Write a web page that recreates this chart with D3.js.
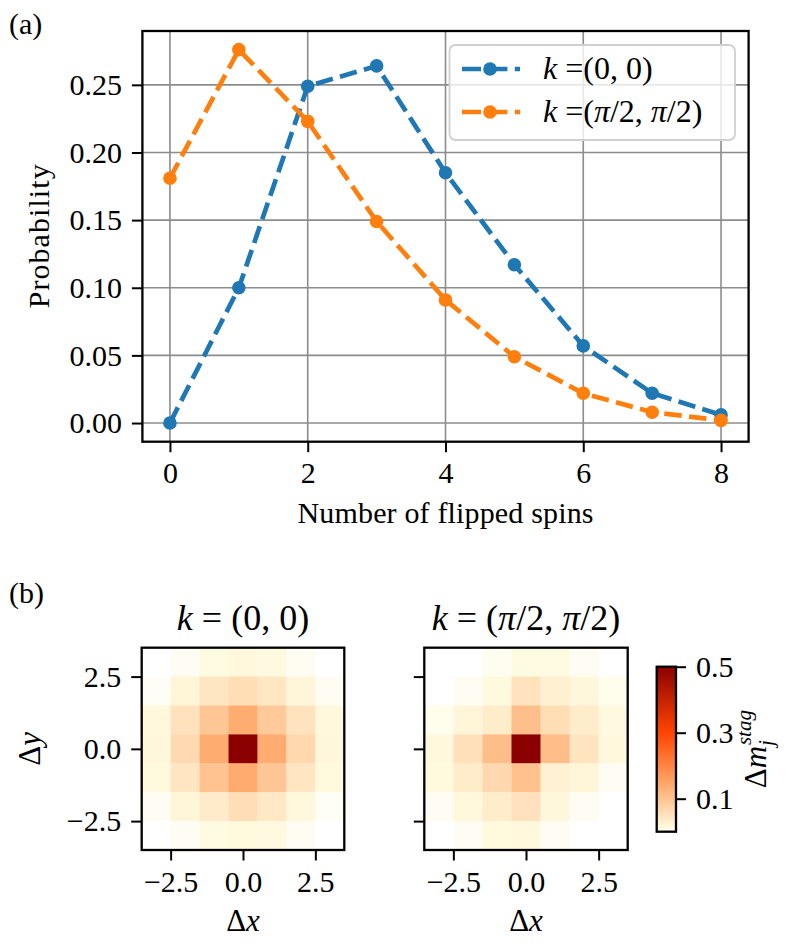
<!DOCTYPE html>
<html>
<head>
<meta charset="utf-8">
<script src="https://cdn.jsdelivr.net/npm/d3@7"></script>
<style>
  body { margin: 0; background: #fff; }
  svg text { font-family: "Liberation Serif", "DejaVu Serif", serif; fill: #000; }
</style>
</head>
<body>
<svg id="fig" width="788" height="946"></svg>
<script>
// ---- data ----
const flipped = [0, 1, 2, 3, 4, 5, 6, 7, 8];
const probK00 = [0.000, 0.100, 0.249, 0.264, 0.185, 0.117, 0.057, 0.022, 0.006];
const probKpi = [0.181, 0.276, 0.223, 0.149, 0.091, 0.049, 0.022, 0.008, 0.002];
const yTicks = [0.00, 0.05, 0.10, 0.15, 0.20, 0.25];
const xTicks = [0, 2, 4, 6, 8];

// 7x7 maps, rows from dy = +3 (top) down to dy = -3
const offsets = [-3, -2, -1, 0, 1, 2, 3];
const mapK00 = [
  [0.000, 0.004, 0.010, 0.015, 0.011, 0.004, 0.000],
  [0.003, 0.020, 0.043, 0.059, 0.042, 0.018, 0.004],
  [0.015, 0.050, 0.096, 0.137, 0.090, 0.048, 0.015],
  [0.016, 0.064, 0.137, 0.500, 0.137, 0.066, 0.016],
  [0.014, 0.046, 0.100, 0.138, 0.096, 0.045, 0.014],
  [0.004, 0.018, 0.036, 0.057, 0.040, 0.015, 0.003],
  [0.000, 0.004, 0.010, 0.014, 0.011, 0.004, 0.000]
];
const mapKpi = [
  [0.000, 0.000, 0.005, 0.010, 0.009, 0.004, 0.000],
  [0.000, 0.004, 0.014, 0.049, 0.027, 0.016, 0.006],
  [0.006, 0.019, 0.034, 0.107, 0.059, 0.034, 0.011],
  [0.015, 0.053, 0.109, 0.500, 0.109, 0.047, 0.015],
  [0.012, 0.034, 0.066, 0.104, 0.024, 0.018, 0.004],
  [0.004, 0.015, 0.034, 0.050, 0.016, 0.004, 0.000],
  [0.000, 0.004, 0.012, 0.015, 0.004, 0.000, 0.000]
];
const mapTicks = [-2.5, 0, 2.5];
const cbarTicks = [0.1, 0.3, 0.5];

const blue = '#1f77b4', orange = '#ff7f0e';
const svg = d3.select('#fig');

// ================= panel (a) =================
const A = { left: 142.4, right: 748.6, top: 31, bottom: 441.7 };
const pad = (lo, hi) => [lo - (hi - lo) * 0.05, hi + (hi - lo) * 0.05];
const allProb = probK00.concat(probKpi);

const x = d3.scaleLinear().domain(pad(d3.min(flipped), d3.max(flipped))).range([A.left, A.right]);
const y = d3.scaleLinear().domain(pad(d3.min(allProb), d3.max(allProb))).range([A.bottom, A.top]);

const gA = svg.append('g');

// grid
gA.selectAll('.gx').data(xTicks).enter().append('line')
  .attr('x1', d => x(d)).attr('x2', d => x(d))
  .attr('y1', A.top).attr('y2', A.bottom)
  .attr('stroke', '#8c8c8c').attr('stroke-width', 1.6);
gA.selectAll('.gy').data(yTicks).enter().append('line')
  .attr('y1', d => y(d)).attr('y2', d => y(d))
  .attr('x1', A.left).attr('x2', A.right)
  .attr('stroke', '#8c8c8c').attr('stroke-width', 1.6);

// axes
const xAxis = d3.axisBottom(x).tickValues(xTicks).tickFormat(d3.format('d')).tickSize(10.5).tickPadding(10);
const yAxis = d3.axisLeft(y).tickValues(yTicks).tickFormat(d3.format('.2f')).tickSize(10.5).tickPadding(10);
gA.append('g').attr('transform', `translate(0,${A.bottom})`).call(xAxis);
gA.append('g').attr('transform', `translate(${A.left},0)`).call(yAxis);

// series
const series = [
  { vals: probK00, color: blue },
  { vals: probKpi, color: orange }
];
const line = d3.line().x((d, i) => x(flipped[i])).y(d => y(d));
series.forEach(s => {
  gA.append('path').datum(s.vals)
    .attr('d', line)
    .attr('fill', 'none')
    .attr('stroke', s.color)
    .attr('stroke-width', 4.7)
    .attr('stroke-dasharray', '17.5,7.4');
  gA.selectAll(null).data(s.vals).enter().append('circle')
    .attr('cx', (d, i) => x(flipped[i]))
    .attr('cy', d => y(d))
    .attr('r', 6.8)
    .attr('fill', s.color);
});

// frame
gA.append('rect')
  .attr('x', A.left).attr('y', A.top)
  .attr('width', A.right - A.left).attr('height', A.bottom - A.top)
  .attr('fill', 'none').attr('stroke', '#000').attr('stroke-width', 2.3);

// legend
const leg = gA.append('g');
leg.append('rect')
  .attr('x', 449.5).attr('y', 45).attr('width', 285.5).attr('height', 95)
  .attr('rx', 6).attr('fill', 'rgba(255,255,255,0.8)')
  .attr('stroke', '#d0d0d0').attr('stroke-width', 1.8);
const legRows = [
  { color: blue, y: 69, parts: [['k', true], [' =(0, 0)', false]] },
  { color: orange, y: 112, parts: [['k', true], [' =(', false], ['π', true], ['/2, ', false], ['π', true], ['/2)', false]] }
];
legRows.forEach(r => {
  leg.append('line')
    .attr('x1', 462).attr('x2', 520).attr('y1', r.y).attr('y2', r.y)
    .attr('stroke', r.color).attr('stroke-width', 4.7)
    .attr('stroke-dasharray', '19,7.4');
  leg.append('circle').attr('cx', 490).attr('cy', r.y).attr('r', 6.8).attr('fill', r.color);
  const t = leg.append('text').attr('x', 543).attr('y', r.y + 10).style('font-size', '32px');
  r.parts.forEach(p => t.append('tspan').text(p[0]).style('font-style', p[1] ? 'italic' : 'normal'));
});

// labels
svg.append('text').attr('x', 9).attr('y', 34).style('font-size', '30px').text('(a)');
svg.append('text')
  .attr('x', (A.left + A.right) / 2).attr('y', 523)
  .attr('text-anchor', 'middle').style('font-size', '30px')
  .attr('textLength', 296).attr('lengthAdjust', 'spacing')
  .text('Number of flipped spins');
svg.append('text')
  .attr('transform', `translate(49,${(A.top + A.bottom) / 2}) rotate(-90)`)
  .attr('text-anchor', 'middle').style('font-size', '30px')
  .attr('textLength', 144).attr('lengthAdjust', 'spacing')
  .text('Probability');

// ================= panel (b) =================
const color = d3.scaleLinear()
  .domain([0, 0.01, 0.15, 0.3, 0.5])
  .range(['#ffffff', '#fffbe0', '#ffa466', '#ff4500', '#8b0000'])
  .interpolate(d3.interpolateRgb)
  .clamp(true);

const mapTop = 647.7, mapBottom = 850;
const maps = [
  { data: mapK00, left: 141.7, right: 344.3, labels: true, title: [['k', true], [' = (0, 0)', false]] },
  { data: mapKpi, left: 424.3, right: 627.7, labels: false, title: [['k', true], [' = (', false], ['π', true], ['/2, ', false], ['π', true], ['/2)', false]] }
];

maps.forEach(m => {
  const g = svg.append('g');
  const mx = d3.scaleLinear().domain([-3.5, 3.5]).range([m.left, m.right]);
  const my = d3.scaleLinear().domain([-3.5, 3.5]).range([mapBottom, mapTop]);

  const cells = [];
  m.data.forEach((row, r) => row.forEach((v, c) => cells.push({ dx: offsets[c], dy: offsets[6 - r], v })));
  g.selectAll('.cell').data(cells).enter().append('rect')
    .attr('x', d => mx(d.dx - 0.5))
    .attr('y', d => my(d.dy + 0.5))
    .attr('width', d => mx(d.dx + 0.5) - mx(d.dx - 0.5) + 0.4)
    .attr('height', d => my(d.dy - 0.5) - my(d.dy + 0.5) + 0.4)
    .attr('fill', d => color(d.v));

  const ax = d3.axisBottom(mx).tickValues(mapTicks).tickFormat(d3.format('.1f')).tickSize(10.5).tickPadding(10);
  const ay = d3.axisLeft(my).tickValues(mapTicks).tickFormat(m.labels ? d3.format('.1f') : '').tickSize(10.5).tickPadding(10);
  g.append('g').attr('transform', `translate(0,${mapBottom})`).call(ax);
  g.append('g').attr('transform', `translate(${m.left},0)`).call(ay);

  g.append('rect')
    .attr('x', m.left).attr('y', mapTop)
    .attr('width', m.right - m.left).attr('height', mapBottom - mapTop)
    .attr('fill', 'none').attr('stroke', '#000').attr('stroke-width', 2.3);

  const t = g.append('text')
    .attr('x', (m.left + m.right) / 2).attr('y', 630)
    .attr('text-anchor', 'middle').style('font-size', '36px');
  m.title.forEach(p => t.append('tspan').text(p[0]).style('font-style', p[1] ? 'italic' : 'normal'));

  const xl = g.append('text')
    .attr('x', (m.left + m.right) / 2).attr('y', 931)
    .attr('text-anchor', 'middle').style('font-size', '31px');
  xl.append('tspan').text('Δ');
  xl.append('tspan').text('x').style('font-style', 'italic');
});

svg.append('text').attr('x', 9).attr('y', 603).style('font-size', '30px').text('(b)');
const dyl = svg.append('text')
  .attr('transform', `translate(40,${(mapTop + mapBottom) / 2}) rotate(-90)`)
  .attr('text-anchor', 'middle').style('font-size', '31px');
dyl.append('tspan').text('Δ');
dyl.append('tspan').text('y').style('font-style', 'italic');

// colorbar
const CB = { left: 656.7, right: 676, top: 666.7, bottom: 831.7 };
const cy = d3.scaleLinear().domain([0, 0.5]).range([CB.bottom, CB.top]);
const grad = svg.append('defs').append('linearGradient')
  .attr('id', 'cbar').attr('x1', 0).attr('x2', 0).attr('y1', 1).attr('y2', 0);
d3.range(0, 1.0001, 0.02).forEach(f => {
  grad.append('stop').attr('offset', f).attr('stop-color', color(f * 0.5));
});
svg.append('rect')
  .attr('x', CB.left).attr('y', CB.top)
  .attr('width', CB.right - CB.left).attr('height', CB.bottom - CB.top)
  .attr('fill', 'url(#cbar)').attr('stroke', '#000').attr('stroke-width', 2.3);
svg.append('g').attr('transform', `translate(${CB.right},0)`)
  .call(d3.axisRight(cy).tickValues(cbarTicks).tickFormat(d3.format('.1f')).tickSize(10).tickPadding(10));

const cbl = svg.append('text')
  .attr('transform', `translate(766,${(CB.top + CB.bottom) / 2}) rotate(-90)`)
  .attr('text-anchor', 'middle').style('font-size', '31px');
cbl.append('tspan').text('Δ');
cbl.append('tspan').text('m').style('font-style', 'italic');
cbl.append('tspan').text('j').style('font-style', 'italic').style('font-size', '21px').attr('dy', 7);
cbl.append('tspan').text('stag').style('font-style', 'italic').style('font-size', '21px').attr('dx', -5).attr('dy', -22);

// common axis styling
svg.selectAll('.domain').remove();
svg.selectAll('.tick line').attr('stroke', '#000').attr('stroke-width', 2);
svg.selectAll('.tick text').attr('font-family', null).style('font-size', '30px');
</script>
</body>
</html>
